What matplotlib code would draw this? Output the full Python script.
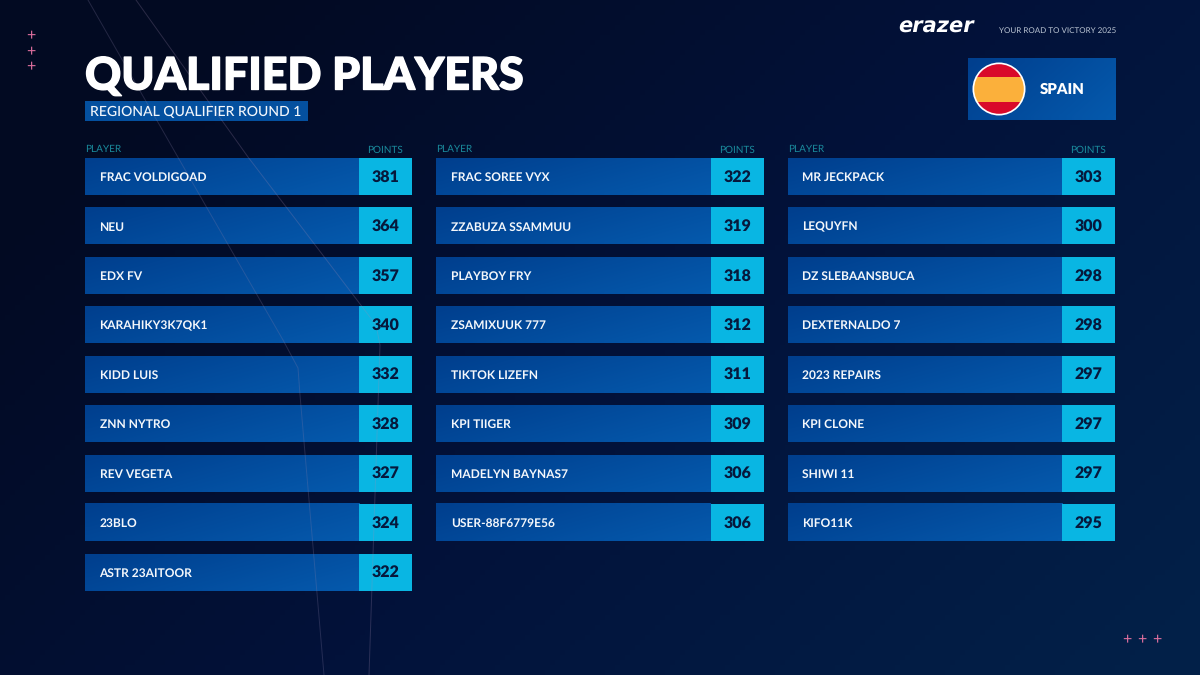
import numpy as np
import matplotlib
matplotlib.use("Agg")
import matplotlib.pyplot as plt
import matplotlib.patheffects as pe
from matplotlib.patches import Rectangle, Circle
from matplotlib.colors import LinearSegmentedColormap

plt.rcParams["text.hinting"] = "none"
plt.rcParams["text.hinting_factor"] = 1

title = "QUALIFIED PLAYERS"
subtitle = "REGIONAL QUALIFIER ROUND 1"
tagline = "YOUR ROAD TO VICTORY 2025"
brand = "erazer"
country = "SPAIN"
col_player = "PLAYER"
col_points = "POINTS"

players_1 = ["FRAC VOLDIGOAD", "NEU", "EDX FV", "KARAHIKY3K7QK1", "KIDD LUIS",
             "ZNN NYTRO", "REV VEGETA", "23BLO", "ASTR 23AITOOR"]
points_1 = [381, 364, 357, 340, 332, 328, 327, 324, 322]
players_2 = ["FRAC SOREE VYX", "ZZABUZA SSAMMUU", "PLAYBOY FRY", "ZSAMIXUUK 777",
             "TIKTOK LIZEFN", "KPI TIIGER", "MADELYN BAYNAS7", "USER-88F6779E56"]
points_2 = [322, 319, 318, 312, 311, 309, 306, 306]
players_3 = ["MR JECKPACK", "LEQUYFN", "DZ SLEBAANSBUCA", "DEXTERNALDO 7",
             "2023 REPAIRS", "KPI CLONE", "SHIWI 11", "KIFO11K"]
points_3 = [303, 300, 298, 298, 297, 297, 297, 295]

FONT = "Lato"
W, H = 1200, 675
fig = plt.figure(figsize=(12, 6.75), dpi=100)
ax = fig.add_axes([0, 0, 1, 1])
ax.set_xlim(0, W); ax.set_ylim(H, 0); ax.axis("off")

# background
yy, xx = np.mgrid[0:1:135j, 0:1:240j]
t = np.clip(0.75 * xx + 0.45 * yy - 0.15, 0, 1)
bg = LinearSegmentedColormap.from_list("bg", ["#020a22", "#02123a", "#022048"])
ax.imshow(t, cmap=bg, vmin=0, vmax=1, extent=[0, W, H, 0], aspect="auto", zorder=0)

bar_cmap = LinearSegmentedColormap.from_list("bar", ["#003f8e", "#0559ac"])
def grad_rect(x, y, w, h, z=2):
    g = np.linspace(0, 1, 40)[None, :] * 0.7 + np.linspace(0, 1, 8)[:, None] * 0.3
    ax.imshow(g, cmap=bar_cmap, vmin=0, vmax=1, extent=[x, x + w, y + h, y],
              aspect="auto", zorder=z, interpolation="bilinear")

# decorative hairlines
ax.plot([88, 207, 283, 298, 300, 324], [0, 208, 340, 368, 395, 675],
        color="#8a7fa8", lw=0.7, alpha=0.25, zorder=5)
ax.plot([136, 248, 306, 376, 380, 369], [0, 157, 233, 325, 345, 675],
        color="#a48ab0", lw=0.7, alpha=0.25, zorder=5)

# plus marks
for cy in (34, 49.5, 64.5):
    ax.text(31, cy, "+", color="#e0709f", fontsize=11.5, family=FONT,
            ha="center", va="center_baseline", zorder=6)
for cx in (1127, 1142, 1157):
    ax.text(cx, 637.5, "+", color="#e0709f", fontsize=11.5, family=FONT,
            ha="center", va="center_baseline", zorder=6)

# header
ax.text(85, 89.5, title, color="white", fontsize=32.2, family=FONT, weight=900,
        ha="left", va="baseline", zorder=7,
        path_effects=[pe.withStroke(linewidth=1.0, foreground="white")])
ax.add_patch(Rectangle((85, 101), 223, 20, color="#04509f", lw=0, zorder=2))
ax.text(90, 116, subtitle, color="#f2f6fb", fontsize=10.3, family=FONT, weight=500,
        ha="left", va="baseline", zorder=7)

ax.text(936, 33, brand, color="white", fontsize=15, family="DejaVu Sans", weight="bold",
        style="italic", ha="center", va="baseline", zorder=7)
ax.text(1116, 33, tagline, color="#b9c3d2", fontsize=6.05, family=FONT,
        ha="right", va="baseline", zorder=7)

# country card
grad_rect(967.5, 58.5, 148, 62)
ax.add_patch(Circle((999, 89), 26.5, color="white", lw=0, zorder=3))
flag_clip = Circle((999, 89), 24.8, transform=ax.transData)
for y0, h, c in [(60, 17, "#d9092a"), (77, 25, "#fbb03b"), (102, 17, "#d9092a")]:
    r = Rectangle((970, y0), 58, h, color=c, lw=0, zorder=4)
    ax.add_patch(r); r.set_clip_path(flag_clip)
ax.text(1040, 94, country, color="white", fontsize=10.5, family=FONT, weight=800,
        ha="left", va="baseline", zorder=7)

# columns
col_x = [85, 436.3, 788]
row_tops = 158 + 49.45 * np.arange(9)
bar_w, pts_w, row_h = 274.3, 53, 37
for x0, names, pts in zip(col_x, [players_1, players_2, players_3],
                          [points_1, points_2, points_3]):
    ax.text(x0, 152.5, col_player, color="#1a8a9c", fontsize=7.45, family=FONT,
            ha="left", va="baseline", zorder=7)
    ax.text(x0 + bar_w + pts_w / 2 - 0.5, 152.5, col_points, color="#1a8a9c", fontsize=7.45,
            family=FONT, ha="center", va="baseline", zorder=7)
    for i, (n, p) in enumerate(zip(names, pts)):
        y = row_tops[i]
        grad_rect(x0, y, bar_w, row_h)
        ax.add_patch(Rectangle((x0 + bar_w, y), pts_w, row_h, color="#09b6e3", lw=0, zorder=2))
        ax.text(x0 + 14.5, y + 23, n, color="#f4f7fb", fontsize=8.9, family=FONT, weight=700,
                ha="left", va="baseline", zorder=7)
        ax.text(x0 + bar_w + pts_w / 2, y + 23.5, str(p), color="#06183c", fontsize=11.4, family=FONT,
                weight=800, ha="center", va="baseline", zorder=7)

ax.set_xlim(0, W); ax.set_ylim(H, 0)
fig.savefig("out.png", dpi=100)
